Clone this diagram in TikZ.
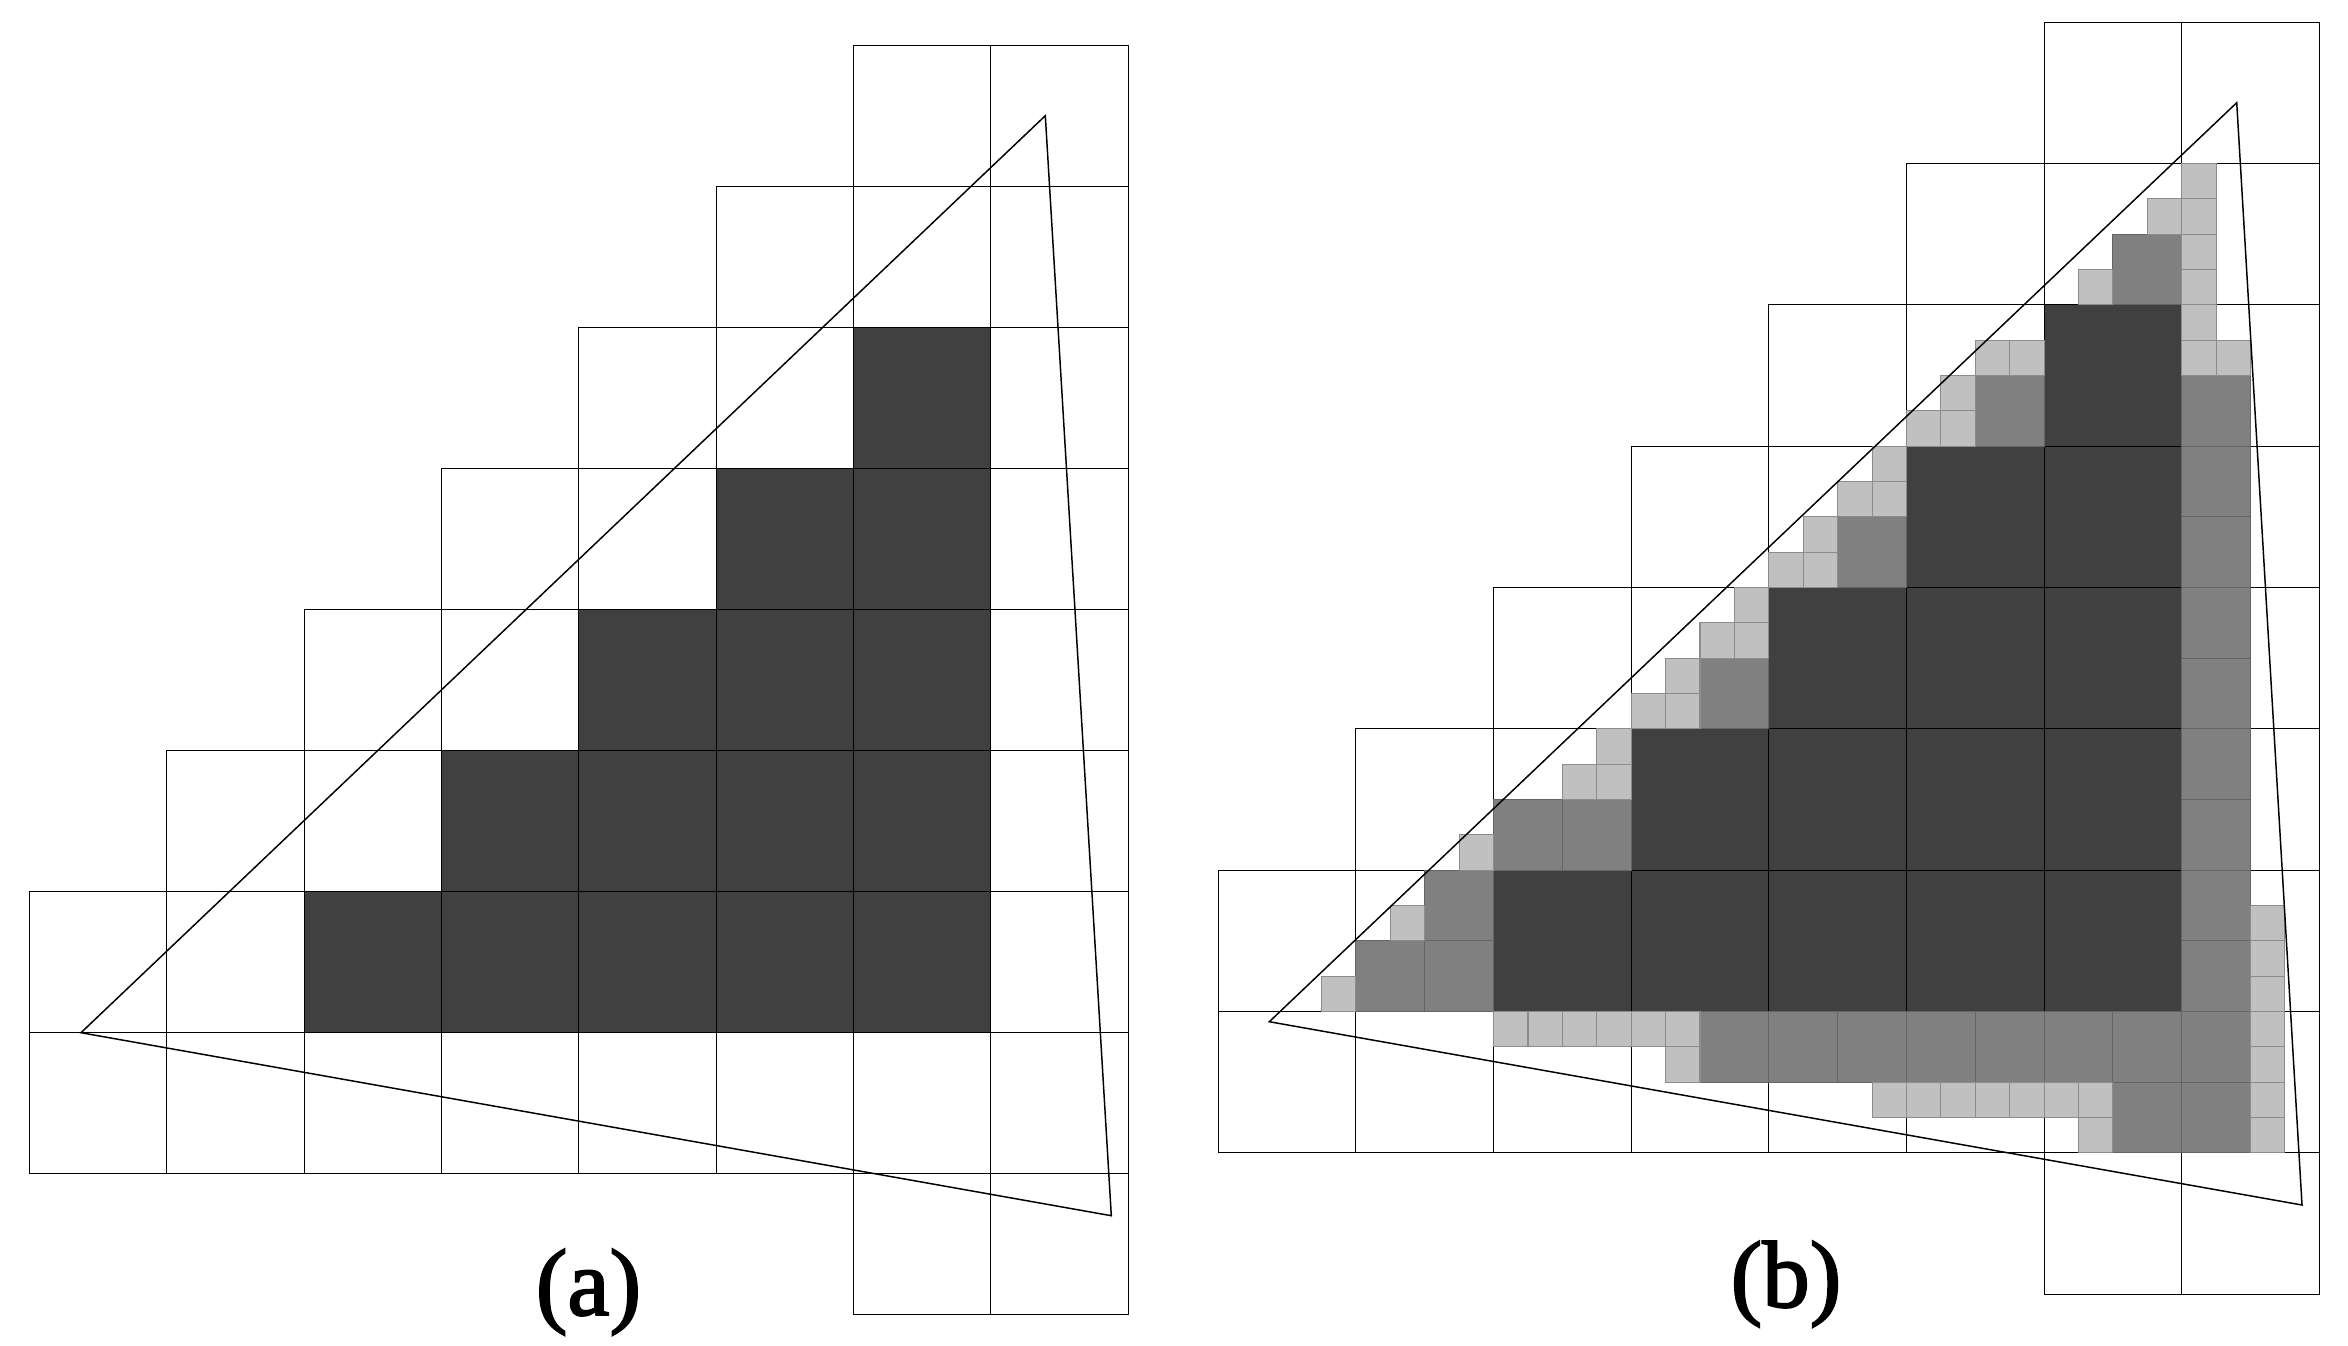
\documentclass[tikz,border=0pt]{standalone}
\usepackage{fontspec}
\setmainfont{Liberation Serif}
\newfontfamily\lblfont[BoldFont={Liberation Serif}, BoldFeatures={FakeBold=2}]{Liberation Serif}
\definecolor{cdark}{HTML}{404040}
\definecolor{cmed}{HTML}{808080}
\definecolor{clight}{HTML}{C0C0C0}
\definecolor{cmedb}{HTML}{646464}
\definecolor{clightb}{HTML}{8C8C8C}
\tikzset{
  gridline/.style={draw=black, line width=0.28pt},
  darkcell/.style={fill=cdark},
  medcell/.style={fill=cmed, draw=cmedb, line width=0.3pt},
  lightcell/.style={fill=clight, draw=clightb, line width=0.3pt},
  tri/.style={draw=black, line width=0.42pt, line join=miter},
  lbl/.style={font=\lblfont\bfseries\fontsize{27}{31}\selectfont, inner sep=0pt, anchor=base}
}
\begin{document}
\begin{tikzpicture}[x=1cm,y=-1cm]
\fill[white] (0,0) rectangle (23.48,13.45);
\useasboundingbox (0,0) rectangle (23.48,13.45);

% ---------- panel (a) ----------
\begin{scope}[shift={(0.293cm,-0.45cm)}, x=0.34344cm, y=-0.3525cm]
  \foreach \r/\s in {2/6,3/5,4/4,5/3,6/2}{
    \foreach \c in {\s,...,6}{
      \fill[darkcell] (4*\c,4*\r) rectangle ++(4,4);
    }
  }
  \foreach \r/\s in {0/6,1/5,2/4,3/3,4/2,5/1,6/0,7/0,8/6}{
    \foreach \c in {\s,...,7}{
      \draw[gridline] (4*\c,4*\r) rectangle ++(4,4);
    }
  }
\end{scope}
\draw[tri] (0.81,10.327) -- (10.453,1.157) -- (11.113,12.157) -- cycle;
\node[lbl] (la) at (5.885,13.15) {(a)};

% ---------- panel (b) ----------
\begin{scope}[shift={(12.183cm,-0.223cm)}, x=0.34406cm, y=-0.35325cm]
  \foreach \r/\s in {2/6,3/5,4/4,5/3,6/2}{
    \foreach \c in {\s,...,6}{
      \fill[darkcell] (4*\c,4*\r) rectangle ++(4,4);
    }
  }
  \foreach \r/\s in {0/6,1/5,2/4,3/3,4/2,5/1,6/0,7/0,8/6}{
    \foreach \c in {\s,...,7}{
      \draw[gridline] (4*\c,4*\r) rectangle ++(4,4);
    }
  }
  % half-size cells
  \foreach \qx/\qy in {26/6, 28/10,22/10, 28/12,28/14,18/14, 28/16,28/18,14/18,
      28/20,28/22,8/22,10/22, 28/24,28/26,6/24,4/26,6/26,
      14/28,16/28,18/28,20/28,22/28,24/28,26/28,28/28,26/30,28/30}{
    \draw[medcell] (\qx,\qy) rectangle ++(2,2);
  }
  % quarter-size cells
  \foreach \qx/\qy in {28/4,28/5,28/6,28/7,27/5,25/7,
      28/8,28/9,29/9,22/9,23/9,21/10,21/11,20/11,
      19/12,19/13,18/13,17/14,17/15,16/15,
      15/16,15/17,14/17,13/18,13/19,12/19,
      11/20,11/21,10/21,7/23,
      5/25,3/27,30/25,30/26,30/27,
      8/28,9/28,10/28,11/28,12/28,13/28,13/29,
      19/30,20/30,21/30,22/30,23/30,24/30,25/30,25/31,
      30/28,30/29,30/30,30/31}{
    \draw[lightcell] (\qx,\qy) rectangle ++(1,1);
  }
\end{scope}
\draw[tri] (12.693,10.217) -- (22.367,1.027) -- (23.02,12.05) -- cycle;
\node[lbl] (lb) at (17.86,13.07) {(b)};
\end{tikzpicture}
\end{document}
